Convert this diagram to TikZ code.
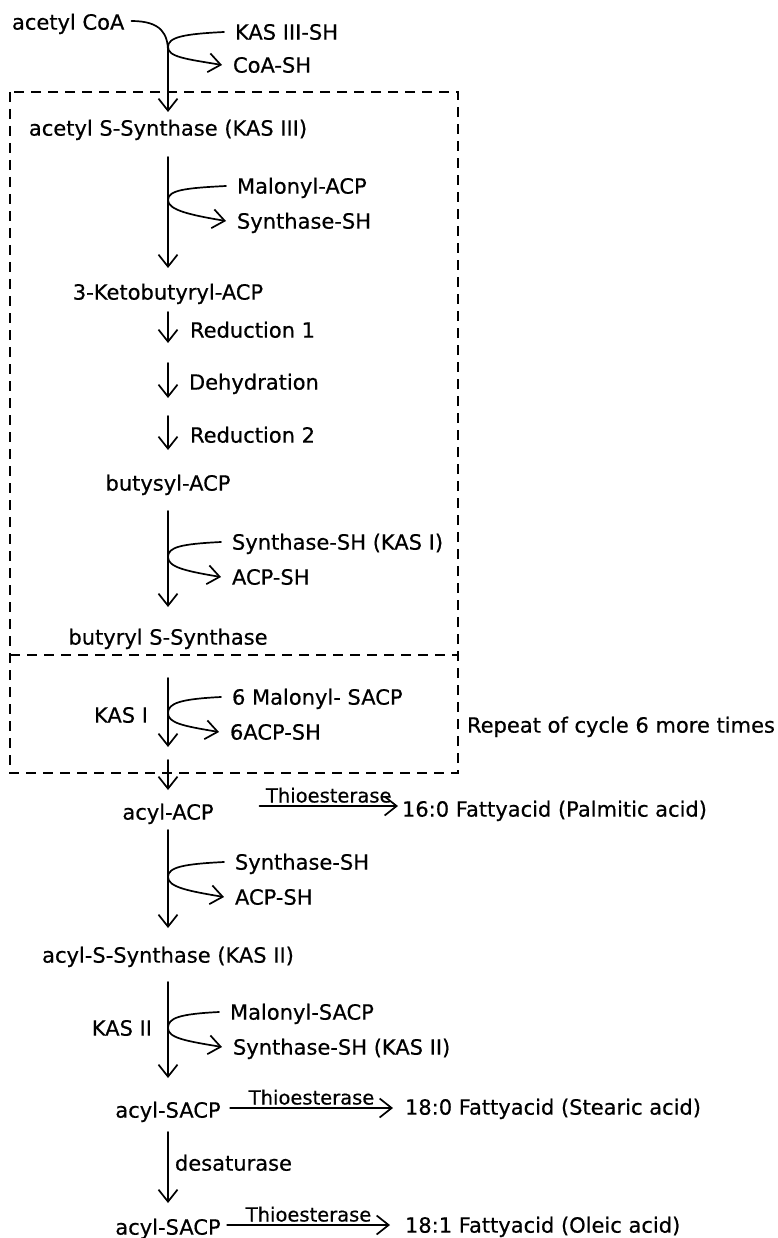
\documentclass[tikz,border=0pt]{standalone}
\usepackage{fontspec}
\setmainfont{DejaVu Sans}[FakeBold=0.5]
\usetikzlibrary{arrows.meta,calc}

% side reaction: a curve leaving the top label, touching the main axis
% and turning back to the bottom label with an open arrow head
\newcommand{\sidebranch}[3]{%
  \draw[rx] ([xshift=-11pt]#1.west) .. controls +(-40pt,-2pt) and +(0pt,10pt) .. (#2)
            .. controls +(0pt,-10pt) and +(-36pt,6pt) .. ([xshift=-11pt]#3.west);}

\begin{document}
\begin{tikzpicture}[x=1pt,y=-1pt,
  every node/.style={inner sep=0pt, outer sep=0pt, text height=15.3pt, text depth=0pt,
                     font=\fontsize{21}{24}\selectfont},
  enz/.style={font=\fontsize{19.5}{22}\selectfont, text height=14.2pt},
  rx/.style={line width=1.7pt, -{Straight Barb[length=12pt,width=19pt]},
             line cap=round, line join=round},
  cyclebox/.style={line width=1.6pt, dash pattern=on 10pt off 7pt},
]
\useasboundingbox (0,0) rectangle (777,1238);

% cycle boxes
\draw[cyclebox] (10,92) rectangle (458,773);
\draw[cyclebox] (10,655) -- (458,655);

% compounds on the main axis
\node[anchor=west] (acoa) at (12,22) {acetyl CoA};
\node (acetylS) at (168,128) {acetyl S-Synthase (KAS III)};
\node (ketob) at (168,292) {3-Ketobutyryl-ACP};
\node (butysyl) at (168,483) {butysyl-ACP};
\node (butyrylS) at (168,637) {butyryl S-Synthase};
\node (acylACP) at (168,812) {acyl-ACP};
\node (acylS) at (168,955) {acyl-S-Synthase (KAS II)};
\node (acylSACPa) at (168,1110) {acyl-SACP};
\node (acylSACPb) at (168,1227) {acyl-SACP};

% side reactants and products
\node[anchor=west] (kas3sh) at (235,32) {KAS III-SH};
\node[anchor=west] (coash) at (233,65) {CoA-SH};
\node[anchor=west] (mal1) at (237,186) {Malonyl-ACP};
\node[anchor=west] (syn1) at (237,221) {Synthase-SH};
\node[anchor=west] (synk1) at (232,542) {Synthase-SH (KAS I)};
\node[anchor=west] (acpsh1) at (232,577) {ACP-SH};
\node[anchor=west] (mal6) at (232,697) {6 Malonyl- SACP};
\node[anchor=west] (acp6) at (230,732) {6ACP-SH};
\node[anchor=west] (syn2) at (235,862) {Synthase-SH};
\node[anchor=west] (acpsh2) at (235,897) {ACP-SH};
\node[anchor=west] (malS) at (230,1012) {Malonyl-SACP};
\node[anchor=west] (synk2) at (233,1047) {Synthase-SH (KAS II)};

% step labels
\node[anchor=west] (red1) at (190,330) {Reduction 1};
\node[anchor=west] (dehyd) at (189,382) {Dehydration};
\node[anchor=west] (red2) at (190,435) {Reduction 2};
\node[anchor=east] (kasI) at (148,715) {KAS I};
\node[anchor=east] (kasII) at (152,1028) {KAS II};
\node[anchor=west] (desat) at (175,1163) {desaturase};
\node[anchor=west] (repeat) at (467,725) {Repeat of cycle 6 more times};

% released fatty acids
\node[anchor=west] (fa16) at (402,809) {16:0 Fattyacid (Palmitic acid)};
\node[anchor=west] (fa180) at (405,1107) {18:0 Fattyacid (Stearic acid)};
\node[anchor=west] (fa181) at (405,1225) {18:1 Fattyacid (Oleic acid)};

% points where side reactions touch the axis
\coordinate (m0) at (168,52);
\coordinate (m1) at (168,47);
\coordinate (m2) at (168,200);
\coordinate (m3) at (168,557);
\coordinate (m4) at (168,713);
\coordinate (m5) at (168,877);
\coordinate (m6) at (168,1028);

% main pathway
\draw[rx] ([xshift=7pt,yshift=1pt]acoa.east) .. controls +(30pt,0pt) and +(0pt,18pt) .. (m0)
          -- ([yshift=8.35pt]acetylS.north);
\draw[rx, shorten <=21.35pt, shorten >=16.35pt] (acetylS) -- (ketob);
\draw[rx] ([yshift=-12.35pt]ketob.south) -- ++(0,31) coordinate (r1);
\draw[rx] ([yshift=-20pt]r1) -- ++(0,35) coordinate (r2);
\draw[rx, shorten >=25.35pt] ([yshift=-18pt]r2) -- (butysyl);
\draw[rx, shorten <=20.35pt, shorten >=22.35pt] (butysyl) -- (butyrylS);
\draw[rx] ([yshift=-33.35pt]butyrylS.south) -- ++(0,69) coordinate (k1);
\draw[rx, shorten >=14.35pt] ([yshift=-13pt]k1) -- (acylACP);
\draw[rx, shorten <=10.35pt, shorten >=19.35pt] (acylACP) -- (acylS);
\draw[rx, shorten <=19.35pt, shorten >=24.35pt] (acylS) -- (acylSACPa);
\draw[rx, shorten <=14.35pt, shorten >=16.35pt] (acylSACPa) -- (acylSACPb);

% side reactions
\sidebranch{kas3sh}{m1}{coash}
\sidebranch{mal1}{m2}{syn1}
\sidebranch{synk1}{m3}{acpsh1}
\sidebranch{mal6}{m4}{acp6}
\sidebranch{syn2}{m5}{acpsh2}
\sidebranch{malS}{m6}{synk2}

% thioesterase release
\draw[rx] ([xshift=46pt,yshift=6pt]acylACP.east) -- node[enz, above=3.5pt] (th1) {Thioesterase}
          ([xshift=-4pt,yshift=3pt]fa16.west);
\draw[rx] ([xshift=9.5pt,yshift=2pt]acylSACPa.east) -- node[enz, above=3.5pt] (th2) {Thioesterase}
          ([xshift=-12pt,yshift=-1pt]fa180.west);
\draw[rx] ([xshift=6.5pt,yshift=2pt]acylSACPb.east) -- node[enz, above=3.5pt] (th3) {Thioesterase}
          ([xshift=-15pt]fa181.west);
\end{tikzpicture}
\end{document}
